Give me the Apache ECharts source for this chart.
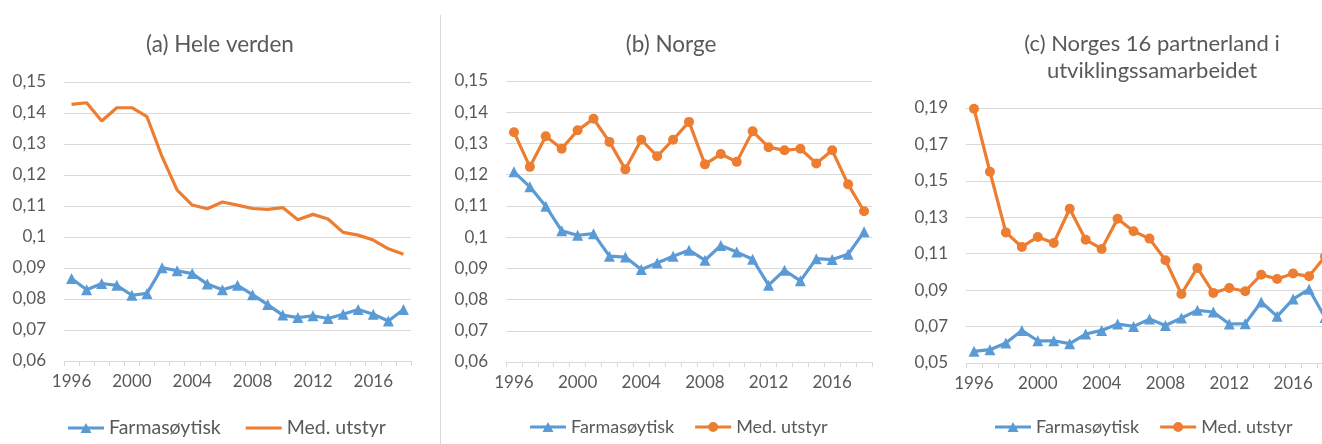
<!DOCTYPE html>
<html><head><meta charset="utf-8">
<script src="https://cdn.jsdelivr.net/npm/echarts@6/dist/echarts.min.js"></script>
<style>html,body{margin:0;padding:0;background:#fff;overflow:hidden}#c{width:1360px;height:444px}</style>
</head><body><div id="c"></div>
<script>
const years = ['1996','1997','1998','1999','2000','2001','2002','2003','2004','2005','2006','2007','2008','2009','2010','2011','2012','2013','2014','2015','2016','2017','2018'];
const panelTitles = ['(a) Hele verden', '(b) Norge', '(c) Norges 16 partnerland i\nutviklingssamarbeidet'];
const seriesNames = ['Farmasøytisk', 'Med. utstyr'];

const worldPharma = [0.0866,0.0830,0.0850,0.0844,0.0812,0.0818,0.0901,0.0891,0.0882,0.0848,0.0830,0.0844,0.0814,0.0782,0.0748,0.0740,0.0746,0.0737,0.0751,0.0766,0.0751,0.0729,0.0766];
const worldMed = [0.1428,0.1433,0.1374,0.1417,0.1417,0.1388,0.1259,0.1151,0.1103,0.1091,0.1113,0.1103,0.1092,0.1089,0.1095,0.1056,0.1073,0.1058,0.1015,0.1006,0.0990,0.0962,0.0944];
const norwayPharma = [0.1209,0.1161,0.1099,0.1020,0.1006,0.1011,0.0939,0.0936,0.0896,0.0917,0.0939,0.0958,0.0926,0.0973,0.0952,0.0929,0.0846,0.0894,0.0860,0.0931,0.0928,0.0945,0.1017];
const norwayMed = [0.1336,0.1225,0.1323,0.1283,0.1342,0.1379,0.1305,0.1217,0.1312,0.1259,0.1312,0.1369,0.1233,0.1266,0.1241,0.1339,0.1288,0.1278,0.1283,0.1236,0.1278,0.1169,0.1083];
const partnerPharma = [0.0564,0.0573,0.0610,0.0679,0.0622,0.0622,0.0606,0.0659,0.0679,0.0714,0.0701,0.0741,0.0706,0.0747,0.0789,0.0780,0.0714,0.0716,0.0835,0.0756,0.0851,0.0905,0.0750];
const partnerMed = [0.1896,0.1550,0.1217,0.1137,0.1192,0.1159,0.1347,0.1177,0.1126,0.1292,0.1223,0.1183,0.1064,0.0879,0.1022,0.0885,0.0912,0.0894,0.0985,0.0961,0.0991,0.0976,0.1085];

const yRangeAB = [0.06, 0.15, 0.01];
const yRangeC = [0.05, 0.19, 0.02];

const BLUE = '#5B9BD5', ORANGE = '#ED7D31', TXT = '#595959', GRID = '#D9D9D9';
const FONT = 'Lato';

const fmt = v => String(+(+v).toFixed(2)).replace('.', ',');

const grids = [
  {left: 64, top: 82, width: 347, height: 279},
  {left: 506, top: 81, width: 366, height: 281},
  {left: 966, top: 108, width: 367, height: 255}
];
const ranges = [yRangeAB, yRangeAB, yRangeC];

const xAxes = grids.map((g, i) => ({
  type: 'category', gridIndex: i, data: years, boundaryGap: true,
  axisLine: {lineStyle: {color: GRID, width: 1}},
  axisTick: {show: true, interval: 0, length: 5, lineStyle: {color: GRID}},
  axisLabel: {interval: 3, color: TXT, fontFamily: FONT, fontSize: 17, margin: 12}
}));
const yAxes = grids.map((g, i) => ({
  type: 'value', gridIndex: i, min: ranges[i][0], max: ranges[i][1], interval: ranges[i][2],
  axisLine: {show: false}, axisTick: {show: false},
  splitLine: {lineStyle: {color: GRID, width: 1}},
  axisLabel: {formatter: fmt, color: TXT, fontFamily: FONT, fontSize: 17, margin: 18}
}));

function mk(name, data, idx, color, symbol, size) {
  return {
    type: 'line', name, data, xAxisIndex: idx, yAxisIndex: idx,
    symbol, symbolSize: size, showSymbol: symbol !== 'none', showAllSymbol: true,
    lineStyle: {color, width: 3.2}, itemStyle: {color},
    emphasis: {disabled: true}, animation: false, z: name === seriesNames[0] ? 3 : 4
  };
}
const series = [
  mk(seriesNames[0], worldPharma, 0, BLUE, 'triangle', 11),
  mk(seriesNames[1], worldMed, 0, ORANGE, 'none', 0),
  mk(seriesNames[0], norwayPharma, 1, BLUE, 'triangle', 11),
  mk(seriesNames[1], norwayMed, 1, ORANGE, 'circle', 10),
  mk(seriesNames[0], partnerPharma, 2, BLUE, 'triangle', 11),
  mk(seriesNames[1], partnerMed, 2, ORANGE, 'circle', 10)
];

const specks = 'M0,0 L0.01,0 L0.01,0.01 Z M0,14 L0.01,14 L0.01,13.99 Z';
const bar = 'M0,5.5 L36,5.5 L36,8.5 L0,8.5 Z';
const ICON_TRI = 'path://' + bar + ' M18,2 L23.5,12 L12.5,12 Z ' + specks;
const ICON_CIR = 'path://' + bar + ' M13,7 A5,5 0 1,1 23,7 A5,5 0 1,1 13,7 Z ' + specks;
const ICON_LINE = 'path://' + bar + ' ' + specks;

function legend(left, medIcon, fontSize, gap) {
  return {
    left, top: 413, itemWidth: 36, itemHeight: 14, itemGap: gap, selectedMode: false,
    textStyle: {color: TXT, fontFamily: FONT, fontSize},
    itemStyle: {borderWidth: 0},
    data: [
      {name: seriesNames[0], icon: ICON_TRI, itemStyle: {color: BLUE, borderWidth: 0}},
      {name: seriesNames[1], icon: medIcon, itemStyle: {color: ORANGE, borderWidth: 0}}
    ]
  };
}

const titleCenters = [[220, 45], [671, 45], [1152, 30]];
const titleSizes = [22.5, 22.5, 22];
const graphic = panelTitles.map((t, i) => ({
  type: 'text', x: titleCenters[i][0], y: titleCenters[i][1],
  style: {text: t, fill: TXT, font: titleSizes[i] + 'px ' + FONT, textAlign: 'center', textVerticalAlign: i === 2 ? 'top' : 'middle', lineHeight: 27},
  silent: true
}));
graphic.push({type: 'line', shape: {x1: 440.5, y1: 15, x2: 440.5, y2: 444}, style: {stroke: GRID, lineWidth: 1}, silent: true});

const chart = echarts.init(document.getElementById('c'), null, {renderer: 'canvas'});
chart.setOption({
  animation: false,
  grid: grids,
  xAxis: xAxes,
  yAxis: yAxes,
  legend: [legend(63, ICON_LINE, 19.5, 25), legend(525, ICON_CIR, 18, 21), legend(990, ICON_CIR, 18, 21)],
  graphic,
  series
});
</script></body></html>
